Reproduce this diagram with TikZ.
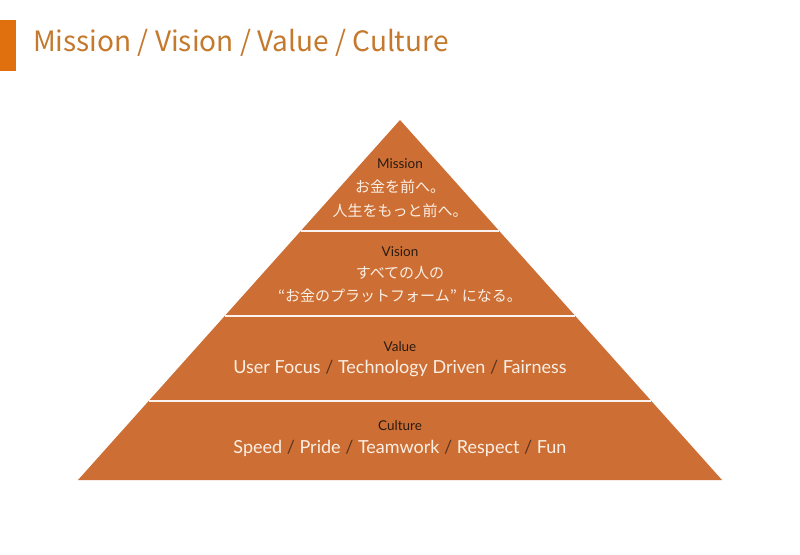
\documentclass[tikz,border=0pt]{standalone}
\usepackage{fontspec}
\setmainfont{Lato}
\newfontfamily\jp{Noto Sans CJK JP}
\definecolor{pyr}{HTML}{CD6F35}
\definecolor{ttl}{HTML}{C4792C}
\definecolor{bar}{HTML}{E0700E}
\definecolor{lbl}{HTML}{2B1A10}
\definecolor{txt}{HTML}{FBEFE4}
\definecolor{sl}{HTML}{5A3320}
\newcommand{\sep}{\ {\color{sl}/}\ }
\begin{document}
\begin{tikzpicture}[x=1pt,y=-1pt,
  lblsty/.style={text=lbl,font=\fontsize{13.5}{16}\selectfont,inner sep=0pt,anchor=center},
  txtsty/.style={text=txt,font=\fontsize{18}{21}\selectfont,inner sep=0pt,anchor=center},
  jpsty/.style={text=txt,font=\jp\fontsize{15}{18}\selectfont,inner sep=0pt,anchor=center},
  seplin/.style={draw=white!92!pyr,line width=1.6pt}]
\useasboundingbox (0,0) rectangle (800,554);
\fill[white] (0,0) rectangle (800,554);
\fill[bar] (0,20) rectangle (16,71);
\node[anchor=west,text=ttl,font=\jp\fontsize{28}{31}\selectfont,inner sep=0pt] (title) at (33,43) {Mission / Vision / Value / Culture};
\coordinate (apex) at (400,120);
\coordinate (bl) at (78,480);
\coordinate (br) at (722,480);
\fill[pyr] (apex) -- (br) -- (bl) -- cycle;
\draw[seplin] (300.7,231) -- (499.3,231);
\draw[seplin] (224.7,316) -- (575.3,316);
\draw[seplin] (148.7,401) -- (651.3,401);
\node[lblsty] (mis) at (400,164) {Mission};
\node[jpsty] (mis1) at (400,187) {お金を前へ。};
\node[jpsty] (mis2) at (400,211) {人生をもっと前へ。};
\node[lblsty] (vis) at (400,252) {Vision};
\node[jpsty] (vis1) at (400,273) {すべての人の};
\node[jpsty] (vis2) at (400,296) {“お金のプラットフォーム”\hspace{5pt}になる。};
\node[lblsty] (val) at (400,347) {Value};
\node[txtsty] (val1) at (400,369) {User Focus\sep Technology Driven\sep Fairness};
\node[lblsty] (cul) at (400,426) {Culture};
\node[txtsty] (cul1) at (400,448) {Speed\sep Pride\sep Teamwork\sep Respect\sep Fun};
\end{tikzpicture}
\end{document}
